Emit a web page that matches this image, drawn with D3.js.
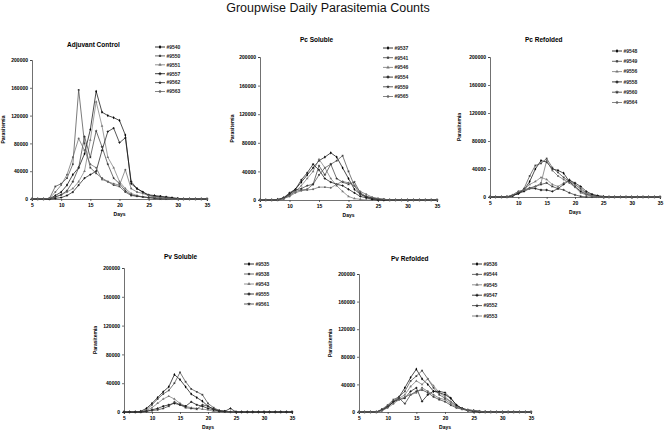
<!DOCTYPE html>
<html>
<head>
<meta charset="utf-8">
<script src="https://cdn.jsdelivr.net/npm/d3@7"></script>
<style>
  body { margin: 0; background: #fff; }
  svg { display: block; font-family: Arial, "Liberation Sans", sans-serif; }
  .tick text { font-weight: bold; }
</style>
</head>
<body>
<svg id="chart" width="664" height="434"></svg>
<script>
// days 5..35
var days = [5,6,7,8,9,10,11,12,13,14,15,16,17,18,19,20,21,22,23,24,25,26,27,28,29,30,31,32,33,34,35];
var xTicks = [5,10,15,20,25,30,35];
var yTicks = [0,40000,80000,120000,160000,200000];
var chartTitle = "Groupwise Daily Parasitemia Counts";
var groupTitles = ["Adjuvant Control", "Pc Soluble", "Pc Refolded", "Pv Soluble", "Pv Refolded"];

var adjuvantIds = ["#9540","#9550","#9551","#9557","#9562","#9563"];
var adjuvantValues = [
  [0,0,0,500,5000,10000,20000,35000,45000,65000,100000,155000,125000,120000,117000,113000,92000,22000,15000,10000,5000,4000,3000,2000,1000,500,0,0,0,0,0],
  [0,0,0,1000,18000,22000,30000,50000,157000,80000,45000,37000,30000,25000,20000,18000,10000,5000,4000,3000,2000,2000,1000,0,0,0,0,0,0,0,0],
  [0,0,0,1000,3000,6000,10000,15000,25000,40000,85000,140000,105000,60000,45000,25000,15000,8000,5000,3000,2000,1000,0,0,0,0,0,0,0,0,0],
  [0,0,0,0,1000,2000,5000,10000,20000,30000,35000,40000,70000,97000,102000,81000,88000,25000,15000,10000,6000,5000,4000,3000,2000,1000,0,0,0,0,0],
  [0,0,0,0,3000,6000,12000,25000,45000,90000,60000,98000,75000,50000,30000,22000,12000,6000,4000,3000,2000,1000,0,0,0,0,0,0,0,0,0],
  [0,0,0,1000,10000,20000,35000,60000,87000,70000,50000,45000,28000,25000,22000,20000,42000,15000,10000,8000,5000,3000,2000,1000,0,0,0,0,0,0,0]
];

var pcSolubleIds = ["#9537","#9541","#9546","#9554","#9559","#9565"];
var pcSolubleValues = [
  [0,0,0,1000,3000,8000,15000,25000,35000,45000,55000,60000,66000,60000,45000,30000,15000,8000,4000,2000,1000,0,0,0,0,0,0,0,0,0,0],
  [0,0,0,0,2000,6000,12000,14000,15000,22000,35000,45000,50000,55000,62000,40000,20000,8000,5000,3000,1000,0,0,0,0,0,0,0,0,0,0],
  [0,0,0,500,3000,7000,12000,20000,30000,40000,57000,45000,30000,20000,12000,5000,2000,1000,0,0,0,0,0,0,0,0,0,0,0,0,0],
  [0,0,0,0,3000,10000,15000,28000,38000,50000,42000,30000,25000,22000,20000,15000,10000,5000,3000,1000,0,0,0,0,0,0,0,0,0,0,0],
  [0,0,0,0,2000,8000,14000,16000,20000,22000,48000,35000,50000,30000,25000,22000,25000,10000,5000,3000,2000,1000,0,0,0,0,0,0,0,0,0],
  [0,0,0,0,2000,5000,10000,13000,14000,15000,18000,18000,17000,22000,26000,24000,20000,12000,8000,4000,2000,1000,0,0,0,0,0,0,0,0,0]
];

var pcRefoldedIds = ["#9548","#9549","#9556","#9558","#9560","#9564"];
var pcRefoldedValues = [
  [0,0,0,500,2000,5000,10000,22000,40000,52000,50000,40000,38000,34000,22000,15000,8000,4000,2000,1000,0,0,0,0,0,0,0,0,0,0,0],
  [0,0,0,0,2000,5000,12000,30000,45000,48000,55000,42000,35000,28000,22000,18000,12000,6000,3000,1000,0,0,0,0,0,0,0,0,0,0,0],
  [0,0,0,0,3000,8000,10000,18000,22000,28000,25000,18000,15000,20000,25000,18000,10000,5000,2000,1000,0,0,0,0,0,0,0,0,0,0,0],
  [0,0,0,0,2000,5000,8000,12000,12000,10000,10000,8000,12000,18000,24000,20000,15000,8000,4000,2000,1000,0,0,0,0,0,0,0,0,0,0],
  [0,0,0,0,2000,6000,10000,13000,15000,18000,20000,15000,12000,10000,6000,3000,1000,0,0,0,0,0,0,0,0,0,0,0,0,0,0],
  [0,0,0,0,3000,8000,10000,12000,15000,20000,52000,38000,30000,25000,20000,14000,6000,3000,1000,0,0,0,0,0,0,0,0,0,0,0,0]
];

var pvSolubleIds = ["#9535","#9538","#9543","#9555","#9561"];
var pvSolubleValues = [
  [0,0,0,1000,5000,12000,20000,28000,35000,52000,45000,35000,25000,20000,15000,8000,4000,2000,1000,0,0,0,0,0,0,0,0,0,0,0,0],
  [0,0,0,0,3000,10000,18000,25000,30000,40000,55000,42000,32000,28000,24000,12000,6000,2000,1000,0,0,0,0,0,0,0,0,0,0,0,0],
  [0,0,0,0,2000,6000,12000,18000,22000,18000,12000,8000,6000,5000,4000,3000,1000,0,0,0,0,0,0,0,0,0,0,0,0,0,0],
  [0,0,0,0,1000,3000,5000,8000,10000,12000,10000,8000,14000,10000,8000,5000,3000,1000,1000,5000,0,0,0,0,0,0,0,0,0,0,0],
  [0,0,0,0,1000,2000,3000,5000,8000,14000,10000,6000,5000,4000,10000,8000,4000,1000,0,0,0,0,0,0,0,0,0,0,0,0,0]
];

var pvRefoldedIds = ["#9536","#9544","#9545","#9547","#9552","#9553"];
var pvRefoldedValues = [
  [0,0,0,0,3000,8000,15000,22000,35000,50000,62000,48000,40000,30000,28000,25000,20000,10000,5000,3000,2000,1000,0,0,0,0,0,0,0,0,0],
  [0,0,0,0,4000,10000,18000,22000,30000,45000,52000,60000,48000,35000,25000,20000,15000,8000,5000,3000,2000,1000,500,0,0,0,0,0,0,0,0],
  [0,0,0,0,3000,9000,16000,20000,25000,37000,45000,40000,48000,38000,28000,22000,15000,9000,5000,3000,1000,0,0,0,0,0,0,0,0,0,0],
  [0,0,0,0,2000,7000,15000,18000,20000,30000,35000,15500,25000,30000,30000,28000,20000,10000,5000,2000,1000,0,0,0,0,0,0,0,0,0,0],
  [0,0,0,0,3000,8000,14000,20000,12000,25000,30000,32000,28000,22000,18000,15000,10000,6000,4000,2000,1000,0,0,0,0,0,0,0,0,0,0],
  [0,0,0,0,2000,6000,12000,18000,22000,25000,28000,35000,30000,25000,20000,18000,12000,7000,4000,3000,2000,1000,0,0,0,0,0,0,0,0,0]
];

// where each small chart sits on the page
var panels = [
  { ids: adjuvantIds,   values: adjuvantValues,   x0: 32,  x1: 207, yTop: 60,  yBot: 199, titleX: 67,  titleY: 47,  legX: 155, legY: 47,  legStep: 8.9,  yLabX: 5 },
  { ids: pcSolubleIds,  values: pcSolubleValues,  x0: 260, x1: 437, yTop: 57,  yBot: 200, titleX: 300, titleY: 42,  legX: 383, legY: 48,  legStep: 9.7,  yLabX: 234 },
  { ids: pcRefoldedIds, values: pcRefoldedValues, x0: 490, x1: 660, yTop: 57,  yBot: 197, titleX: 525, titleY: 42,  legX: 612, legY: 51,  legStep: 10.3, yLabX: 461 },
  { ids: pvSolubleIds,  values: pvSolubleValues,  x0: 124, x1: 292, yTop: 268, yBot: 412, titleX: 164, titleY: 259, legX: 244, legY: 264, legStep: 10,   yLabX: 97 },
  { ids: pvRefoldedIds, values: pvRefoldedValues, x0: 359, x1: 531, yTop: 274, yBot: 412, titleX: 391, titleY: 261, legX: 472, legY: 264, legStep: 10.4, yLabX: 332 }
];

var lineColors = ["#000", "#444", "#777", "#111", "#333", "#666"];
var symbols = [d3.symbolDiamond, d3.symbolSquare, d3.symbolTriangle, d3.symbolCross, d3.symbolStar, d3.symbolCircle];

var svg = d3.select("#chart");

svg.append("text")
  .attr("x", 328)
  .attr("y", 12)
  .attr("text-anchor", "middle")
  .attr("font-size", "12.5px")
  .attr("fill", "#111")
  .text(chartTitle);

panels.forEach(function (p, pi) {
  var g = svg.append("g");

  var xScale = d3.scaleLinear().domain([5, 35]).range([p.x0, p.x1]);
  var yScale = d3.scaleLinear().domain([0, 200000]).range([p.yBot, p.yTop]);

  var xAxis = d3.axisBottom(xScale).tickValues(xTicks).tickSize(2).tickPadding(2);
  var yAxis = d3.axisLeft(yScale).tickValues(yTicks).tickSize(2).tickPadding(2).tickFormat(d3.format("d"));

  g.append("g")
    .attr("transform", `translate(0, ${p.yBot})`)
    .call(xAxis)
    .attr("font-family", "")
    .attr("font-size", "5px");

  g.append("g")
    .attr("transform", `translate(${p.x0}, 0)`)
    .call(yAxis)
    .attr("font-family", "")
    .attr("font-size", "5px");

  g.selectAll(".domain, .tick line").attr("stroke", "#333").attr("stroke-width", 0.7);

  g.append("text")
    .attr("x", p.titleX)
    .attr("y", p.titleY)
    .attr("font-size", "6.5px")
    .attr("font-weight", "bold")
    .text(groupTitles[pi]);

  g.append("text")
    .attr("x", (p.x0 + p.x1) / 2)
    .attr("y", p.yBot + 17)
    .attr("text-anchor", "middle")
    .attr("font-size", "5px")
    .attr("font-weight", "bold")
    .text("Days");

  g.append("text")
    .attr("transform", `translate(${p.yLabX}, ${(p.yTop + p.yBot) / 2}) rotate(-90)`)
    .attr("text-anchor", "middle")
    .attr("font-size", "5px")
    .attr("font-weight", "bold")
    .text("Parasitemia");

  var line = d3.line()
    .x((v, i) => xScale(days[i]))
    .y(v => yScale(v));

  p.values.forEach(function (vals, si) {
    var color = lineColors[si];
    var sym = d3.symbol().type(symbols[si]).size(3);

    g.append("path")
      .datum(vals)
      .attr("fill", "none")
      .attr("stroke", color)
      .attr("stroke-width", 0.7)
      .attr("d", line);

    g.append("g")
      .selectAll("path")
      .data(vals)
      .join("path")
      .attr("transform", (v, i) => `translate(${xScale(days[i])}, ${yScale(v)})`)
      .attr("fill", color)
      .attr("d", sym);

    // legend row
    var ly = p.legY + si * p.legStep;
    g.append("line")
      .attr("x1", p.legX).attr("x2", p.legX + 10)
      .attr("y1", ly).attr("y2", ly)
      .attr("stroke", color)
      .attr("stroke-width", 0.8);
    g.append("path")
      .attr("transform", `translate(${p.legX + 5}, ${ly})`)
      .attr("fill", color)
      .attr("d", d3.symbol().type(symbols[si]).size(5));
    g.append("text")
      .attr("x", p.legX + 11.5)
      .attr("y", ly + 1.8)
      .attr("font-size", "5px")
      .attr("font-weight", "bold")
      .attr("fill", "#222")
      .text(p.ids[si]);
  });
});
</script>
</body>
</html>
